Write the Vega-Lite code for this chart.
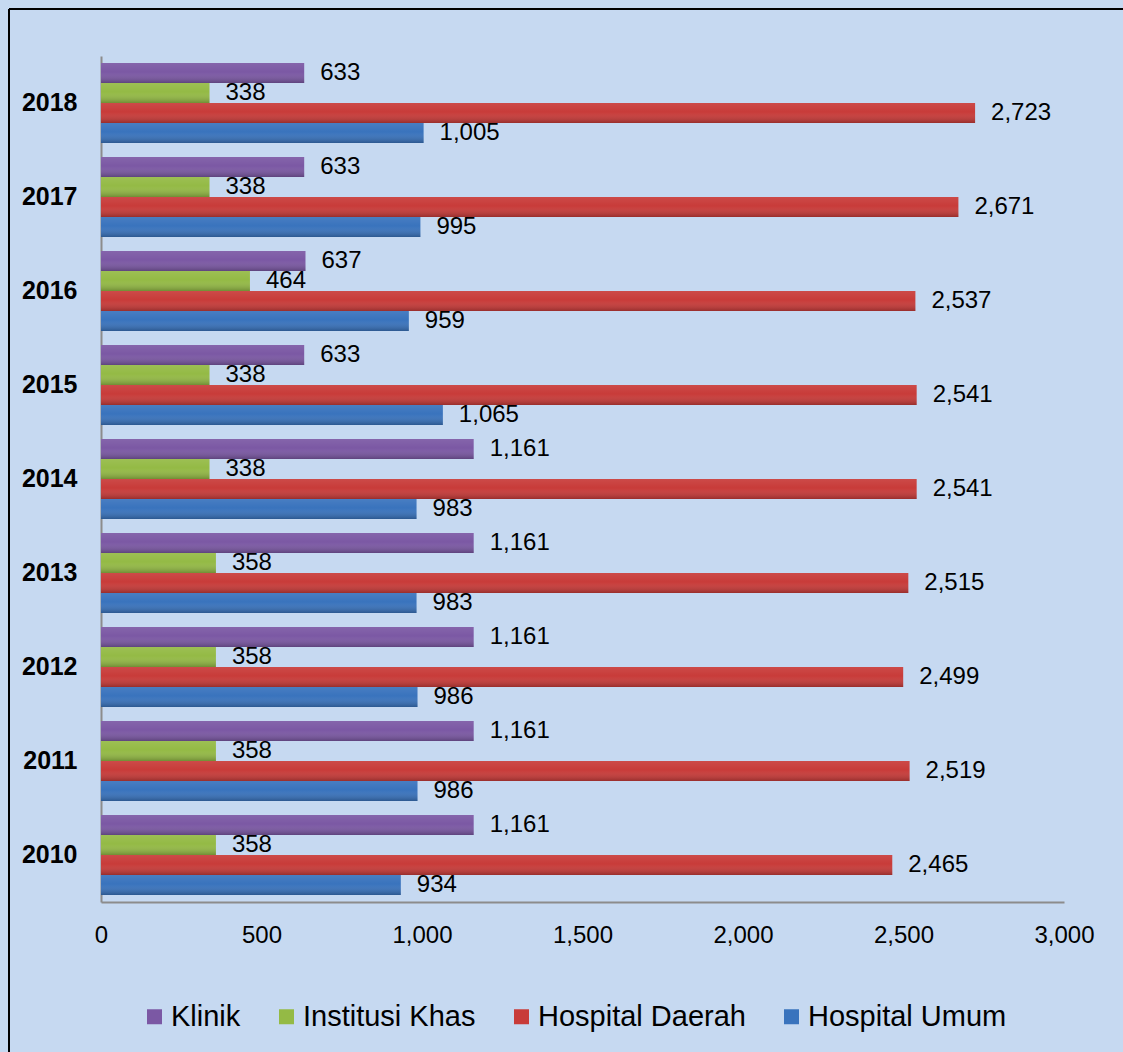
{
  "$schema": "https://vega.github.io/schema/vega-lite/v6.json",
  "autosize": "none",
  "padding": {"left": 9, "top": 9, "right": 0, "bottom": 0},
  "width": 1114,
  "height": 1043,
  "background": "#C6D9F1",
  "view": {"stroke": "#000000", "strokeWidth": 2, "strokeDash": [1114, 2157, 1043, 0], "strokeDashOffset": 0, "fill": null},
  "config": {
    "font": "Liberation Sans",
    "text": {"font": "Liberation Sans"}
  },
  "data": {
    "values": [
      {"year": 2018, "cat": "Klinik", "value": 633},
      {"year": 2018, "cat": "Institusi Khas", "value": 338},
      {"year": 2018, "cat": "Hospital Daerah", "value": 2723},
      {"year": 2018, "cat": "Hospital Umum", "value": 1005},
      {"year": 2017, "cat": "Klinik", "value": 633},
      {"year": 2017, "cat": "Institusi Khas", "value": 338},
      {"year": 2017, "cat": "Hospital Daerah", "value": 2671},
      {"year": 2017, "cat": "Hospital Umum", "value": 995},
      {"year": 2016, "cat": "Klinik", "value": 637},
      {"year": 2016, "cat": "Institusi Khas", "value": 464},
      {"year": 2016, "cat": "Hospital Daerah", "value": 2537},
      {"year": 2016, "cat": "Hospital Umum", "value": 959},
      {"year": 2015, "cat": "Klinik", "value": 633},
      {"year": 2015, "cat": "Institusi Khas", "value": 338},
      {"year": 2015, "cat": "Hospital Daerah", "value": 2541},
      {"year": 2015, "cat": "Hospital Umum", "value": 1065},
      {"year": 2014, "cat": "Klinik", "value": 1161},
      {"year": 2014, "cat": "Institusi Khas", "value": 338},
      {"year": 2014, "cat": "Hospital Daerah", "value": 2541},
      {"year": 2014, "cat": "Hospital Umum", "value": 983},
      {"year": 2013, "cat": "Klinik", "value": 1161},
      {"year": 2013, "cat": "Institusi Khas", "value": 358},
      {"year": 2013, "cat": "Hospital Daerah", "value": 2515},
      {"year": 2013, "cat": "Hospital Umum", "value": 983},
      {"year": 2012, "cat": "Klinik", "value": 1161},
      {"year": 2012, "cat": "Institusi Khas", "value": 358},
      {"year": 2012, "cat": "Hospital Daerah", "value": 2499},
      {"year": 2012, "cat": "Hospital Umum", "value": 986},
      {"year": 2011, "cat": "Klinik", "value": 1161},
      {"year": 2011, "cat": "Institusi Khas", "value": 358},
      {"year": 2011, "cat": "Hospital Daerah", "value": 2519},
      {"year": 2011, "cat": "Hospital Umum", "value": 986},
      {"year": 2010, "cat": "Klinik", "value": 1161},
      {"year": 2010, "cat": "Institusi Khas", "value": 358},
      {"year": 2010, "cat": "Hospital Daerah", "value": 2465},
      {"year": 2010, "cat": "Hospital Umum", "value": 934}
    ]
  },
  "encoding": {
    "y": {
      "field": "year",
      "type": "ordinal",
      "sort": "descending",
      "title": null,
      "scale": {"range": [47, 893], "paddingInner": 0.149, "paddingOuter": 0.0745},
      "axis": {
        "orient": "left",
        "offset": -92,
        "ticks": false,
        "labelPadding": 24,
        "labelFontSize": 25,
        "labelFontWeight": "bold",
        "labelColor": "#000000",
        "labelFont": "Liberation Sans",
        "domainColor": "#8C8C8C",
        "domainWidth": 2
      }
    },
    "yOffset": {
      "field": "cat",
      "type": "nominal",
      "sort": ["Klinik", "Institusi Khas", "Hospital Daerah", "Hospital Umum"],
      "scale": {"paddingInner": 0, "paddingOuter": 0}
    },
    "x": {
      "field": "value",
      "type": "quantitative",
      "title": null,
      "scale": {"domain": [0, 3000], "range": [92, 1055], "nice": false},
      "axis": {
        "orient": "bottom",
        "offset": -150,
        "values": [0, 500, 1000, 1500, 2000, 2500, 3000],
        "format": ",.0f",
        "grid": false,
        "ticks": false,
        "labelPadding": 21,
        "labelFontSize": 24,
        "labelColor": "#000000",
        "labelFont": "Liberation Sans",
        "labelFlush": false,
        "labelOverlap": false,
        "domainColor": "#8C8C8C",
        "domainWidth": 2
      }
    }
  },
  "layer": [
    {
      "mark": {"type": "bar"},
      "encoding": {
        "color": {
          "field": "cat",
          "type": "nominal",
          "sort": ["Klinik", "Institusi Khas", "Hospital Daerah", "Hospital Umum"],
          "scale": {
            "domain": ["Klinik", "Institusi Khas", "Hospital Daerah", "Hospital Umum"],
            "range": ["#7B58A4", "#94BA45", "#C83B39", "#3973BD"]
          },
          "legend": {
            "title": null,
            "orient": "none",
            "direction": "horizontal",
            "legendX": 131,
            "legendY": 993,
            "padding": 0,
            "symbolType": "square",
            "symbolSize": 225,
            "symbolStrokeWidth": 0,
            "symbolOpacity": 1,
            "labelOffset": 2,
            "columnPadding": 31,
            "labelFontSize": 29,
            "labelFont": "Liberation Sans",
            "labelColor": "#000000",
            "labelLimit": 400
          }
        }
      }
    },
    {
      "mark": {
        "type": "bar",
        "color": {
          "gradient": "linear", "x1": 0, "y1": 0, "x2": 0, "y2": 1,
          "stops": [
            {"offset": 0, "color": "rgba(255,255,255,0.08)"},
            {"offset": 0.45, "color": "rgba(255,255,255,0.0)"},
            {"offset": 1, "color": "rgba(0,0,0,0.24)"}
          ]
        }
      },
      "encoding": {}
    },
    {
      "mark": {"type": "text", "align": "left", "baseline": "middle", "dx": 16, "fontSize": 24, "font": "Liberation Sans", "color": "#000000"},
      "encoding": {
        "text": {"field": "value", "type": "quantitative", "format": ","}
      }
    }
  ]
}
